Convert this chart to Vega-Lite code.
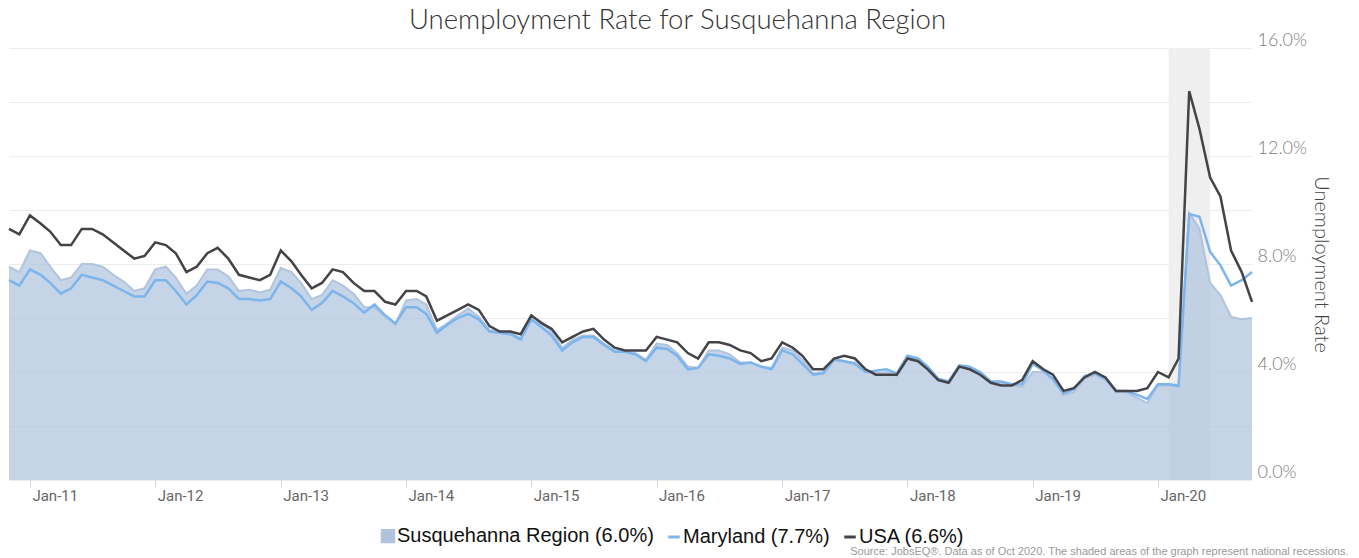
{
  "$schema": "https://vega.github.io/schema/vega-lite/v6.json",
  "width": 1243,
  "height": 432,
  "autosize": {"type": "none"},
  "padding": {"left": 9, "top": 48, "right": 107, "bottom": 78},
  "background": "white",
  "title": {"text": "Unemployment Rate for Susquehanna Region", "font": "Lato", "fontWeight": 300, "fontSize": 27.5, "color": "#333333", "anchor": "middle", "dx": 47, "offset": -3},
  "config": {"view": {"stroke": null}},
  "data": {"values": [
    {"d": "2010-11-01", "r": 7.9, "m": 7.4, "u": 9.3},
    {"d": "2010-12-01", "r": 7.7, "m": 7.2, "u": 9.1},
    {"d": "2011-01-01", "r": 8.5, "m": 7.8, "u": 9.8},
    {"d": "2011-02-01", "r": 8.4, "m": 7.6, "u": 9.5},
    {"d": "2011-03-01", "r": 7.9, "m": 7.3, "u": 9.2},
    {"d": "2011-04-01", "r": 7.4, "m": 6.9, "u": 8.7},
    {"d": "2011-05-01", "r": 7.5, "m": 7.1, "u": 8.7},
    {"d": "2011-06-01", "r": 8.0, "m": 7.6, "u": 9.3},
    {"d": "2011-07-01", "r": 8.0, "m": 7.5, "u": 9.3},
    {"d": "2011-08-01", "r": 7.9, "m": 7.4, "u": 9.1},
    {"d": "2011-09-01", "r": 7.6, "m": 7.2, "u": 8.8},
    {"d": "2011-10-01", "r": 7.35, "m": 7.0, "u": 8.5},
    {"d": "2011-11-01", "r": 7.0, "m": 6.8, "u": 8.2},
    {"d": "2011-12-01", "r": 7.1, "m": 6.8, "u": 8.3},
    {"d": "2012-01-01", "r": 7.8, "m": 7.4, "u": 8.8},
    {"d": "2012-02-01", "r": 7.9, "m": 7.4, "u": 8.7},
    {"d": "2012-03-01", "r": 7.5, "m": 7.0, "u": 8.4},
    {"d": "2012-04-01", "r": 6.9, "m": 6.5, "u": 7.7},
    {"d": "2012-05-01", "r": 7.2, "m": 6.85, "u": 7.9},
    {"d": "2012-06-01", "r": 7.8, "m": 7.35, "u": 8.4},
    {"d": "2012-07-01", "r": 7.8, "m": 7.3, "u": 8.6},
    {"d": "2012-08-01", "r": 7.55, "m": 7.1, "u": 8.2},
    {"d": "2012-09-01", "r": 7.0, "m": 6.7, "u": 7.6},
    {"d": "2012-10-01", "r": 7.05, "m": 6.7, "u": 7.5},
    {"d": "2012-11-01", "r": 6.95, "m": 6.65, "u": 7.4},
    {"d": "2012-12-01", "r": 7.05, "m": 6.7, "u": 7.6},
    {"d": "2013-01-01", "r": 7.85, "m": 7.35, "u": 8.5},
    {"d": "2013-02-01", "r": 7.7, "m": 7.1, "u": 8.1},
    {"d": "2013-03-01", "r": 7.3, "m": 6.8, "u": 7.6},
    {"d": "2013-04-01", "r": 6.7, "m": 6.3, "u": 7.1},
    {"d": "2013-05-01", "r": 6.85, "m": 6.55, "u": 7.3},
    {"d": "2013-06-01", "r": 7.4, "m": 7.0, "u": 7.8},
    {"d": "2013-07-01", "r": 7.2, "m": 6.8, "u": 7.7},
    {"d": "2013-08-01", "r": 6.9, "m": 6.55, "u": 7.3},
    {"d": "2013-09-01", "r": 6.4, "m": 6.2, "u": 7.0},
    {"d": "2013-10-01", "r": 6.4, "m": 6.5, "u": 7.0},
    {"d": "2013-11-01", "r": 6.05, "m": 6.1, "u": 6.6},
    {"d": "2013-12-01", "r": 5.75, "m": 5.8, "u": 6.5},
    {"d": "2014-01-01", "r": 6.65, "m": 6.4, "u": 7.0},
    {"d": "2014-02-01", "r": 6.7, "m": 6.4, "u": 7.0},
    {"d": "2014-03-01", "r": 6.5, "m": 6.15, "u": 6.8},
    {"d": "2014-04-01", "r": 5.55, "m": 5.45, "u": 5.9},
    {"d": "2014-05-01", "r": 5.8, "m": 5.75, "u": 6.1},
    {"d": "2014-06-01", "r": 6.1, "m": 6.0, "u": 6.3},
    {"d": "2014-07-01", "r": 6.35, "m": 6.15, "u": 6.5},
    {"d": "2014-08-01", "r": 6.05, "m": 5.95, "u": 6.3},
    {"d": "2014-09-01", "r": 5.55, "m": 5.5, "u": 5.7},
    {"d": "2014-10-01", "r": 5.5, "m": 5.45, "u": 5.5},
    {"d": "2014-11-01", "r": 5.45, "m": 5.4, "u": 5.5},
    {"d": "2014-12-01", "r": 5.25, "m": 5.2, "u": 5.4},
    {"d": "2015-01-01", "r": 6.05, "m": 5.95, "u": 6.1},
    {"d": "2015-02-01", "r": 5.85, "m": 5.65, "u": 5.8},
    {"d": "2015-03-01", "r": 5.5, "m": 5.35, "u": 5.6},
    {"d": "2015-04-01", "r": 4.9, "m": 4.8, "u": 5.1},
    {"d": "2015-05-01", "r": 5.2, "m": 5.1, "u": 5.3},
    {"d": "2015-06-01", "r": 5.35, "m": 5.3, "u": 5.5},
    {"d": "2015-07-01", "r": 5.35, "m": 5.3, "u": 5.6},
    {"d": "2015-08-01", "r": 5.05, "m": 5.0, "u": 5.2},
    {"d": "2015-09-01", "r": 4.8, "m": 4.75, "u": 4.9},
    {"d": "2015-10-01", "r": 4.75, "m": 4.75, "u": 4.8},
    {"d": "2015-11-01", "r": 4.7, "m": 4.65, "u": 4.8},
    {"d": "2015-12-01", "r": 4.45, "m": 4.4, "u": 4.8},
    {"d": "2016-01-01", "r": 5.05, "m": 4.9, "u": 5.3},
    {"d": "2016-02-01", "r": 5.0, "m": 4.85, "u": 5.2},
    {"d": "2016-03-01", "r": 4.7, "m": 4.6, "u": 5.1},
    {"d": "2016-04-01", "r": 4.2, "m": 4.1, "u": 4.7},
    {"d": "2016-05-01", "r": 4.15, "m": 4.15, "u": 4.5},
    {"d": "2016-06-01", "r": 4.8, "m": 4.65, "u": 5.1},
    {"d": "2016-07-01", "r": 4.8, "m": 4.6, "u": 5.1},
    {"d": "2016-08-01", "r": 4.65, "m": 4.5, "u": 5.0},
    {"d": "2016-09-01", "r": 4.35, "m": 4.3, "u": 4.8},
    {"d": "2016-10-01", "r": 4.35, "m": 4.35, "u": 4.7},
    {"d": "2016-11-01", "r": 4.2, "m": 4.2, "u": 4.4},
    {"d": "2016-12-01", "r": 4.15, "m": 4.1, "u": 4.5},
    {"d": "2017-01-01", "r": 4.9, "m": 4.8, "u": 5.1},
    {"d": "2017-02-01", "r": 4.8, "m": 4.65, "u": 4.9},
    {"d": "2017-03-01", "r": 4.45, "m": 4.3, "u": 4.6},
    {"d": "2017-04-01", "r": 3.95, "m": 3.9, "u": 4.1},
    {"d": "2017-05-01", "r": 4.0, "m": 3.95, "u": 4.1},
    {"d": "2017-06-01", "r": 4.5, "m": 4.45, "u": 4.5},
    {"d": "2017-07-01", "r": 4.4, "m": 4.4, "u": 4.6},
    {"d": "2017-08-01", "r": 4.35, "m": 4.3, "u": 4.5},
    {"d": "2017-09-01", "r": 4.05, "m": 4.0, "u": 4.1},
    {"d": "2017-10-01", "r": 3.95, "m": 4.05, "u": 3.9},
    {"d": "2017-11-01", "r": 4.0, "m": 4.1, "u": 3.9},
    {"d": "2017-12-01", "r": 3.85, "m": 3.95, "u": 3.9},
    {"d": "2018-01-01", "r": 4.55, "m": 4.6, "u": 4.5},
    {"d": "2018-02-01", "r": 4.45, "m": 4.5, "u": 4.4},
    {"d": "2018-03-01", "r": 4.15, "m": 4.2, "u": 4.1},
    {"d": "2018-04-01", "r": 3.7, "m": 3.75, "u": 3.7},
    {"d": "2018-05-01", "r": 3.6, "m": 3.65, "u": 3.6},
    {"d": "2018-06-01", "r": 4.2, "m": 4.25, "u": 4.2},
    {"d": "2018-07-01", "r": 4.15, "m": 4.2, "u": 4.1},
    {"d": "2018-08-01", "r": 3.95, "m": 4.0, "u": 3.9},
    {"d": "2018-09-01", "r": 3.6, "m": 3.65, "u": 3.6},
    {"d": "2018-10-01", "r": 3.6, "m": 3.65, "u": 3.5},
    {"d": "2018-11-01", "r": 3.5, "m": 3.55, "u": 3.5},
    {"d": "2018-12-01", "r": 3.45, "m": 3.55, "u": 3.7},
    {"d": "2019-01-01", "r": 4.0, "m": 4.3, "u": 4.4},
    {"d": "2019-02-01", "r": 4.0, "m": 4.05, "u": 4.1},
    {"d": "2019-03-01", "r": 3.7, "m": 3.75, "u": 3.9},
    {"d": "2019-04-01", "r": 3.15, "m": 3.2, "u": 3.3},
    {"d": "2019-05-01", "r": 3.25, "m": 3.35, "u": 3.4},
    {"d": "2019-06-01", "r": 3.75, "m": 3.85, "u": 3.8},
    {"d": "2019-07-01", "r": 3.9, "m": 3.95, "u": 4.0},
    {"d": "2019-08-01", "r": 3.7, "m": 3.75, "u": 3.8},
    {"d": "2019-09-01", "r": 3.25, "m": 3.3, "u": 3.3},
    {"d": "2019-10-01", "r": 3.25, "m": 3.3, "u": 3.3},
    {"d": "2019-11-01", "r": 3.05, "m": 3.15, "u": 3.3},
    {"d": "2019-12-01", "r": 2.85, "m": 3.0, "u": 3.4},
    {"d": "2020-01-01", "r": 3.5, "m": 3.55, "u": 4.0},
    {"d": "2020-02-01", "r": 3.5, "m": 3.55, "u": 3.8},
    {"d": "2020-03-01", "r": 3.45, "m": 3.5, "u": 4.5},
    {"d": "2020-04-01", "r": 9.9, "m": 9.85, "u": 14.4},
    {"d": "2020-05-01", "r": 9.3, "m": 9.75, "u": 13.0},
    {"d": "2020-06-01", "r": 7.3, "m": 8.45, "u": 11.2},
    {"d": "2020-07-01", "r": 6.85, "m": 7.95, "u": 10.5},
    {"d": "2020-08-01", "r": 6.05, "m": 7.2, "u": 8.5},
    {"d": "2020-09-01", "r": 5.95, "m": 7.4, "u": 7.7},
    {"d": "2020-10-01", "r": 6.0, "m": 7.7, "u": 6.6}
  ]},
  "encoding": {
    "x": {
      "field": "d", "type": "temporal",
      "scale": {"type": "utc", "domain": [{"year": 2010, "month": 11, "date": 1, "utc": true}, {"year": 2020, "month": 10, "date": 1, "utc": true}]},
      "axis": {
        "title": "Source: JobsEQ®. Data as of Oct 2020. The shaded areas of the graph represent national recessions.",
        "titleFont": "Liberation Sans", "titleFontSize": 11, "titleFontWeight": "normal", "titleColor": "#999999",
        "titleAlign": "right", "titleAnchor": "end", "titleX": 1339, "titleY": 71, "titleBaseline": "middle",
        "values": [
          {"year": 2011, "month": 1, "date": 1, "utc": true},
          {"year": 2012, "month": 1, "date": 1, "utc": true},
          {"year": 2013, "month": 1, "date": 1, "utc": true},
          {"year": 2014, "month": 1, "date": 1, "utc": true},
          {"year": 2015, "month": 1, "date": 1, "utc": true},
          {"year": 2016, "month": 1, "date": 1, "utc": true},
          {"year": 2017, "month": 1, "date": 1, "utc": true},
          {"year": 2018, "month": 1, "date": 1, "utc": true},
          {"year": 2019, "month": 1, "date": 1, "utc": true},
          {"year": 2020, "month": 1, "date": 1, "utc": true}
        ],
        "format": "%b-%y",
        "labelAlign": "left", "labelFont": "Liberation Sans Narrow, Roboto, Liberation Sans", "labelFontSize": 15, "labelColor": "#666666",
        "labelPadding": 1, "labelOffset": 2, "labelFlush": false, "labelOverlap": false,
        "tickColor": "#ccd6eb", "tickSize": 7, "domain": false, "grid": false
      }
    }
  },
  "layer": [
    {
      "data": {"values": [{"s": "2020-02-01", "e": "2020-06-01"}]},
      "mark": {"type": "rect", "color": "#efefef"},
      "encoding": {
        "x": {"field": "s", "type": "temporal"},
        "x2": {"field": "e"}
      }
    },
    {
      "mark": {"type": "area", "fillOpacity": 0.72, "line": {"strokeWidth": 2}},
      "encoding": {
        "y": {
          "field": "r", "type": "quantitative",
          "scale": {"domain": [0, 16], "nice": false},
          "axis": {
            "orient": "right", "title": "Unemployment Rate",
            "values": [0, 2, 4, 6, 8, 10, 12, 14, 16],
            "labelExpr": "datum.value % 4 === 0 ? format(datum.value, '.1f') + '%' : ''",
            "grid": true, "gridColor": "#ececec", "domain": false, "ticks": false,
            "labelFont": "Lato", "labelFontWeight": 300, "labelFontSize": 18, "labelColor": "#808080",
            "labelPadding": 5, "labelBaseline": "middle", "labelOffset": -8, "labelFlush": false, "labelOverlap": false,
            "titleFont": "Lato", "titleFontWeight": 300, "titleFontSize": 20, "titleColor": "#444444",
            "titleAngle": 90, "titlePadding": 4
          }
        },
        "color": {
          "datum": "Susquehanna Region (6.0%)",
          "scale": {"domain": ["Susquehanna Region (6.0%)", "Maryland (7.7%)", "USA (6.6%)"], "range": ["#b0c4de", "#7cb5ec", "#434348"]},
          "legend": {
            "orient": "none", "legendX": 369, "legendY": 478, "direction": "horizontal", "title": null,
            "labelFont": "Liberation Sans", "labelFontSize": 20, "labelColor": "#111111", "labelLimit": 500,
            "symbolSize": 132, "columnPadding": 8, "labelOffset": -1, "padding": 0,
            "encode": {
              "symbols": {
                "update": {
                  "shape": {"signal": "datum.value === 'Susquehanna Region (6.0%)' ? 'square' : 'stroke'"},
                  "fill": {"signal": "datum.value === 'Susquehanna Region (6.0%)' ? '#b4c6dd' : 'transparent'"},
                  "stroke": {"signal": "datum.value === 'Maryland (7.7%)' ? '#7cb5ec' : (datum.value === 'USA (6.6%)' ? '#434348' : 'transparent')"},
                  "strokeWidth": {"value": 3},
                  "opacity": {"value": 1},
                  "fillOpacity": {"value": 1}
                }
              }
            }
          }
        }
      }
    },
    {
      "mark": {"type": "line", "strokeWidth": 2.5},
      "encoding": {
        "y": {"field": "m", "type": "quantitative", "title": "Unemployment Rate"},
        "color": {"datum": "Maryland (7.7%)"}
      }
    },
    {
      "mark": {"type": "line", "strokeWidth": 2.5},
      "encoding": {
        "y": {"field": "u", "type": "quantitative", "title": "Unemployment Rate"},
        "color": {"datum": "USA (6.6%)"}
      }
    }
  ]
}
